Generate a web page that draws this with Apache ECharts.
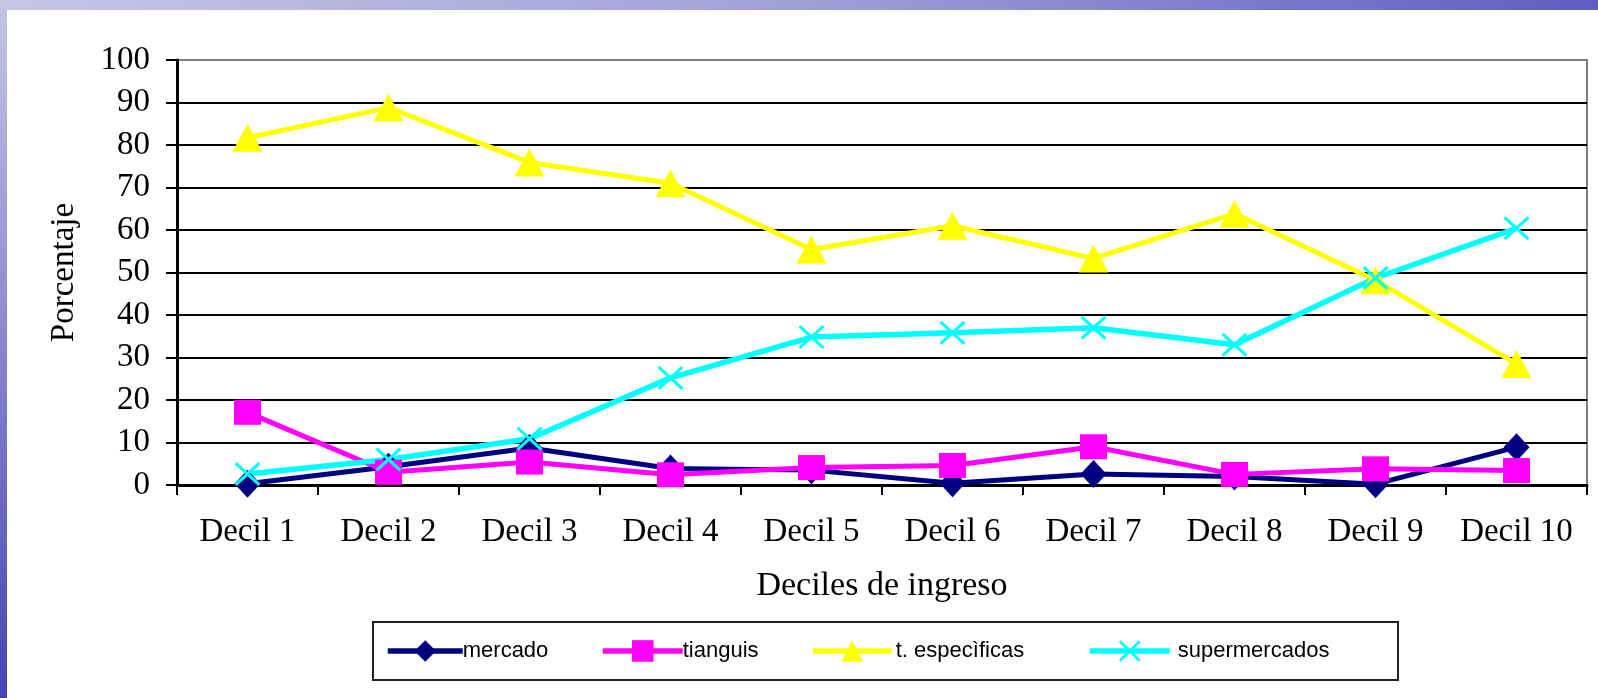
<!DOCTYPE html>
<html>
<head>
<meta charset="utf-8">
<script src="https://cdn.jsdelivr.net/npm/echarts@6/dist/echarts.min.js"></script>
<style>
  html, body { margin: 0; padding: 0; background: #fff; }
  #chart { width: 1598px; height: 698px; }
</style>
</head>
<body>
<div id="chart"></div>
<script>
// Porcentaje por decil de ingreso según lugar de compra
const categories = ['Decil 1', 'Decil 2', 'Decil 3', 'Decil 4', 'Decil 5', 'Decil 6', 'Decil 7', 'Decil 8', 'Decil 9', 'Decil 10'];
const mercado       = [0.3, 4.3, 8.7, 3.9, 3.5, 0.4, 2.6, 2.0, 0.2, 8.9];
const tianguis      = [17.1, 3.0, 5.4, 2.4, 4.1, 4.6, 9.0, 2.5, 3.8, 3.4];
const tEspecificas  = [81.7, 88.8, 75.9, 71.0, 55.4, 61.0, 53.3, 63.8, 48.2, 28.5];
const supermercados = [2.6, 6.0, 10.9, 25.2, 34.8, 35.8, 37.0, 33.0, 48.7, 60.4];
const yTicks = [0, 10, 20, 30, 40, 50, 60, 70, 80, 90, 100];

const serif = '"Liberation Serif", "Times New Roman", serif';
const sans = '"Liberation Sans", Arial, sans-serif';

// thin "x" marker
const crossPath = 'path://M0,1 L1,0 L12,10 L11,11 Z M11,0 L12,1 L1,11 L0,10 Z';

const chart = echarts.init(document.getElementById('chart'), null, { renderer: 'canvas' });

function lineSeries(name, data, color, symbol, size, width) {
  return {
    name: name,
    type: 'line',
    data: data,
    symbol: symbol,
    symbolSize: size,
    showAllSymbol: true,
    lineStyle: { color: color, width: width },
    itemStyle: { color: color, borderWidth: 0, opacity: 1 },
    emphasis: { disabled: true },
    animation: false
  };
}

const splitColors = yTicks.map((v, i) => (i === yTicks.length - 1 ? '#808080' : '#000'));

function legendAt(name, left, width, textPad) {
  return {
    data: [name],
    left: left,
    top: 640,
    orient: 'horizontal',
    itemWidth: width,
    itemHeight: 27,
    padding: 0,
    selectedMode: false,
    lineStyle: { width: 5.5 },
    textStyle: { fontFamily: sans, fontSize: 22, color: '#000', padding: [0, 0, 0, textPad] }
  };
}

const option = {
  backgroundColor: '#fff',
  animation: false,
  graphic: [
    {
      type: 'rect', z: -10,
      shape: { x: 0, y: 0, width: 1598, height: 10 },
      style: { fill: new echarts.graphic.LinearGradient(0, 0, 1, 0, [
        { offset: 0, color: '#c6c6e6' },
        { offset: 0.5, color: '#a0a0d8' },
        { offset: 1, color: '#5e5ec2' }
      ]) }
    },
    {
      type: 'rect', z: -10,
      shape: { x: 0, y: 0, width: 7, height: 698 },
      style: { fill: new echarts.graphic.LinearGradient(0, 0, 0, 1, [
        { offset: 0, color: '#c6c6e6' },
        { offset: 0.5, color: '#8686ce' },
        { offset: 1, color: '#4444b4' }
      ]) }
    },
    {
      type: 'rect', z: 0,
      shape: { x: 373, y: 622, width: 1025, height: 58 },
      style: { fill: 'transparent', stroke: '#222', lineWidth: 2 }
    }
  ],
  grid: {
    left: 177, right: 11, top: 60, bottom: 213,
    show: true, borderColor: '#808080', borderWidth: 2, backgroundColor: '#fff'
  },
  legend: [
    legendAt('mercado', 385, 75, -5),
    legendAt('tianguis', 600, 80, -5),
    legendAt('t. especìficas', 810, 79, -1),
    legendAt('supermercados', 1087, 80, 3)
  ],
  xAxis: {
    type: 'category',
    data: categories,
    boundaryGap: true,
    name: 'Deciles de ingreso',
    nameLocation: 'middle',
    nameGap: 84,
    nameTextStyle: { fontFamily: serif, fontSize: 34, color: '#000', verticalAlign: 'top' },
    axisLine: { lineStyle: { color: '#000', width: 3 } },
    axisTick: { show: true, length: 10, lineStyle: { color: '#000', width: 2 } },
    axisLabel: { fontFamily: serif, fontSize: 33, color: '#000', margin: 31, interval: 0 },
    splitLine: { show: false }
  },
  yAxis: {
    type: 'value',
    min: 0, max: 100, interval: 10,
    name: 'Porcentaje',
    nameLocation: 'middle',
    nameGap: 96,
    nameRotate: 90,
    nameTextStyle: { fontFamily: serif, fontSize: 33, color: '#000' },
    axisLine: { show: true, lineStyle: { color: '#000', width: 3 } },
    axisTick: { show: true, length: 11, lineStyle: { color: '#000', width: 2 } },
    axisLabel: { fontFamily: serif, fontSize: 33, color: '#000', margin: 27 },
    splitLine: { show: true, lineStyle: { color: splitColors, width: 2 } }
  },
  series: [
    lineSeries('mercado', mercado, '#000080', 'diamond', [26, 28], 5),
    lineSeries('tianguis', tianguis, '#ff00ff', 'rect', [27, 25], 5),
    lineSeries('t. especìficas', tEspecificas, '#ffff00', 'triangle', [30, 28], 5),
    lineSeries('supermercados', supermercados, '#00ffff', crossPath, [26, 24], 5.5)
  ]
};

chart.setOption(option);
</script>
</body>
</html>
